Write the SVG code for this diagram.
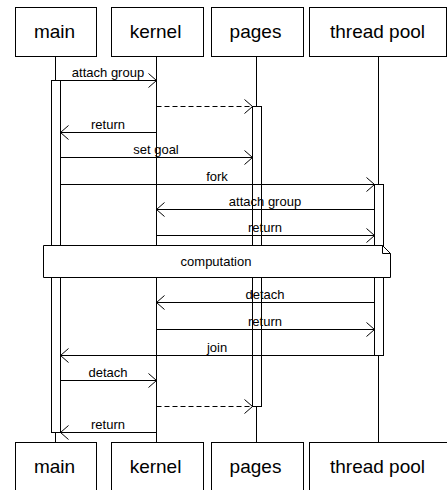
<svg xmlns="http://www.w3.org/2000/svg" width="447" height="490" viewBox="0 0 447 490">
  <style>
    .box { fill: #fff; stroke: #000; stroke-width: 1; }
    .title { font-family: "Liberation Sans", Arial, sans-serif; font-size: 19px; fill: #000; text-anchor: middle; }
    .life { stroke: #000; stroke-width: 1; fill: none; }
    .act { fill: #fff; stroke: #000; stroke-width: 1; }
    .msg { stroke: #000; stroke-width: 1; fill: none; marker-end: url(#open); }
    .dash { stroke-dasharray: 5 3; }
    .lbl { font-family: "Liberation Sans", Arial, sans-serif; font-size: 13px; fill: #000; text-anchor: middle; }
    .note { fill: #fff; stroke: #000; stroke-width: 1; }
  </style>
  <defs>
    <marker id="open" markerUnits="userSpaceOnUse" viewBox="0 0 9 16" refX="8.5" refY="8" markerWidth="9" markerHeight="16" orient="auto">
      <path d="M0.5,1 L8.5,8 L0.5,15" fill="none" stroke="#000" stroke-width="1" stroke-dasharray="none"/>
    </marker>
  </defs>

  <rect width="447" height="490" fill="#fff"/>

  <!-- lifelines -->
  <g id="lifelines">
    <line class="life" x1="55.5" y1="56.5" x2="55.5" y2="442.5"/>
    <line class="life" x1="156.5" y1="56.5" x2="156.5" y2="442.5"/>
    <line class="life" x1="256.5" y1="56.5" x2="256.5" y2="442.5"/>
    <line class="life" x1="378.5" y1="56.5" x2="378.5" y2="442.5"/>
  </g>

  <!-- activation bars -->
  <g id="activations">
    <rect class="act" x="51.5" y="80.5" width="9" height="352"/>
    <rect class="act" x="252.5" y="106.5" width="9" height="300"/>
    <rect class="act" x="374.5" y="184.5" width="9" height="171"/>
  </g>

  <!-- messages -->
  <g id="connectors">
    <line class="msg" x1="60.5" y1="80.5" x2="156.5" y2="80.5"/>
    <text class="lbl" x="108" y="77">attach group</text>

    <line class="msg dash" x1="156.5" y1="106.5" x2="252.5" y2="106.5"/>

    <line class="msg" x1="156.5" y1="132.5" x2="60.5" y2="132.5"/>
    <text class="lbl" x="108" y="129">return</text>

    <line class="msg" x1="60.5" y1="157.5" x2="252.5" y2="157.5"/>
    <text class="lbl" x="156" y="154">set goal</text>

    <line class="msg" x1="60.5" y1="184.5" x2="374.5" y2="184.5"/>
    <text class="lbl" x="217" y="181">fork</text>

    <line class="msg" x1="374.5" y1="209.5" x2="156.5" y2="209.5"/>
    <text class="lbl" x="265" y="206">attach group</text>

    <line class="msg" x1="156.5" y1="235.5" x2="374.5" y2="235.5"/>
    <text class="lbl" x="265" y="232">return</text>

    <line class="msg" x1="374.5" y1="302.5" x2="156.5" y2="302.5"/>
    <text class="lbl" x="265" y="299">detach</text>

    <line class="msg" x1="156.5" y1="329.5" x2="374.5" y2="329.5"/>
    <text class="lbl" x="265" y="326">return</text>

    <line class="msg" x1="374.5" y1="355.5" x2="60.5" y2="355.5"/>
    <text class="lbl" x="217" y="352">join</text>

    <line class="msg" x1="60.5" y1="380.5" x2="156.5" y2="380.5"/>
    <text class="lbl" x="108" y="377">detach</text>

    <line class="msg dash" x1="156.5" y1="406.5" x2="252.5" y2="406.5"/>

    <line class="msg" x1="156.5" y1="432.5" x2="60.5" y2="432.5"/>
    <text class="lbl" x="108" y="429">return</text>
  </g>

  <!-- note spanning all participants -->
  <g id="note-computation">
    <path class="note" d="M43.5,245.5 H382.5 L390.5,253.5 V277.5 H43.5 Z"/>
    <path d="M382.5,245.5 V253.5 H390.5" fill="none" stroke="#000" stroke-width="1"/>
    <text class="lbl" x="216" y="266">computation</text>
  </g>

  <!-- participant heads -->
  <g id="main-top"><rect class="box" x="15.5" y="7.5" width="81" height="49"/><text class="title" x="54.5" y="37.5">main</text></g>
  <g id="kernel-top"><rect class="box" x="111.5" y="7.5" width="92" height="49"/><text class="title" x="155.5" y="37.5">kernel</text></g>
  <g id="pages-top"><rect class="box" x="211.5" y="7.5" width="92" height="49"/><text class="title" x="255.5" y="37.5">pages</text></g>
  <g id="threadpool-top"><rect class="box" x="309.5" y="7.5" width="137" height="49"/><text class="title" x="377.5" y="37.5">thread pool</text></g>

  <!-- participant feet -->
  <g id="main-bottom"><rect class="box" x="15.5" y="442.5" width="81" height="50"/><text class="title" x="54.5" y="473">main</text></g>
  <g id="kernel-bottom"><rect class="box" x="111.5" y="442.5" width="92" height="50"/><text class="title" x="155.5" y="473">kernel</text></g>
  <g id="pages-bottom"><rect class="box" x="211.5" y="442.5" width="92" height="50"/><text class="title" x="255.5" y="473">pages</text></g>
  <g id="threadpool-bottom"><rect class="box" x="309.5" y="442.5" width="138" height="50"/><text class="title" x="377.5" y="473">thread pool</text></g>
</svg>
